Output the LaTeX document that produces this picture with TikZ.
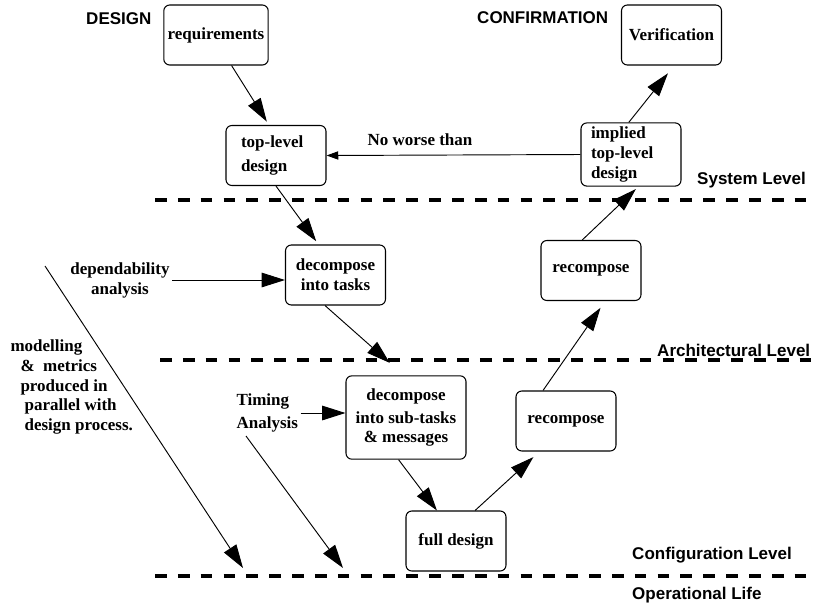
\documentclass[tikz,border=0pt]{standalone}
\usepackage{fontspec}
\setmainfont{Liberation Serif}
\setsansfont{Liberation Sans}
\usetikzlibrary{arrows.meta}

\tikzset{
    stage/.style={draw, rounded corners=5pt, line width=0.9pt, minimum width=3cm, minimum height=1.8cm,
        font=\bfseries\fontsize{14.5}{17}\selectfont, align=center},
    note/.style={font=\bfseries\fontsize{14.5}{17}\selectfont, align=center, inner sep=2pt},
    level/.style={font=\sffamily\bfseries\fontsize{14.5}{17}\selectfont, anchor=west, inner sep=0pt},
    levelline/.style={line width=3pt, dash pattern=on 10pt off 9.5pt},
    flow/.style={-{Triangle[length=20pt,width=12.5pt]}, line width=0.8pt},
    weakflow/.style={-{Triangle[length=10pt,width=7pt]}, line width=0.8pt}
}

\begin{document}
\begin{tikzpicture}[x=0.03cm,y=-0.03cm]
        \useasboundingbox (0,0) rectangle (814,607);

        \node[level] (design) at (86,19) {DESIGN};
        \node[level] (confirm) at (477,18) {CONFIRMATION};

        \node[stage] (req) at (216,35) {requirements};
        \node[stage, text width=2.1cm, align=left] (top) at (276,155.5) {top-level\\[4pt]design};
        \node[stage] (dectasks) at (335.5,275) {decompose\\into tasks};
        \node[stage, minimum width=3.6cm, minimum height=2.5cm] (subtasks) at (406,417.5) {decompose\\[3pt]into sub-tasks\\[-1pt]\& messages};
        \node[stage] (full) at (456,541) {full design};
        \node[stage] (reclow) at (566,421) {recompose};
        \node[stage] (recup) at (591,270.5) {recompose};
        \node[stage, text width=2.4cm, align=left] (implied) at (631,154.5) {implied\\top-level\\design};
        \node[stage] (verif) at (671.5,35) {Verification};

        \node[note] (worse) at (420,140) {No worse than};
        \node[note] (dep) at (120,280) {dependability\\analysis};
        \node[note, align=left, anchor=west] (timing) at (234,413) {Timing\\[2.6pt]Analysis};
        \node[note, align=left, anchor=west] (model) at (8,387) {modelling\\\hspace*{8.5pt}\&~ metrics\\\hspace*{8.5pt}produced in\\\hspace*{12pt}parallel with\\\hspace*{12pt}design process.};

        \draw[levelline] (155,200) -- (814,200);
        \draw[levelline] (160,360) -- (814,360);
        \draw[levelline] (155,576) -- (814,576);

        \node[level] (syslevel) at (697,180) {System Level};
        \node[level] (archlevel) at (657,350) {Architectural Level};
        \node[level] (conflevel) at (632,555) {Configuration Level};
        \node[level] (oplife) at (632,595) {Operational Life};

        \draw[flow, shorten >=3.4pt] (req.-63) -- (top.103);
        \draw[flow, shorten >=3.4pt] (top.south) -- (dectasks.119);
        \draw[flow, shorten >=16pt] (dectasks.-109) -- (subtasks.93);
        \draw[flow] (subtasks.-100) -- (full.122);
        \draw[flow, shorten >=7pt] (full.58) -- (reclow.-131);
        \draw[flow, shorten >=7pt] (reclow.127) -- (recup.-65);
        \draw[flow, shorten >=3pt] (recup.106) -- (implied.-77);
        \draw[flow, shorten >=8.5pt] (implied.94) -- (verif.-85);

        \draw[weakflow] (implied.west) -- (top.east);
        \draw[flow] (dep.east) -- (dep.east -| dectasks.west);
        \draw[flow] (timing.east) -- (timing.east -| subtasks.west);

        \coordinate (mstart) at (45,266);
        \coordinate (mend) at (243,568);
        \coordinate (tstart) at (246,436);
        \coordinate (tend) at (343,568);
        \draw[flow] (mstart) -- (mend);
        \draw[flow] (tstart) -- (tend);
\end{tikzpicture}
\end{document}
